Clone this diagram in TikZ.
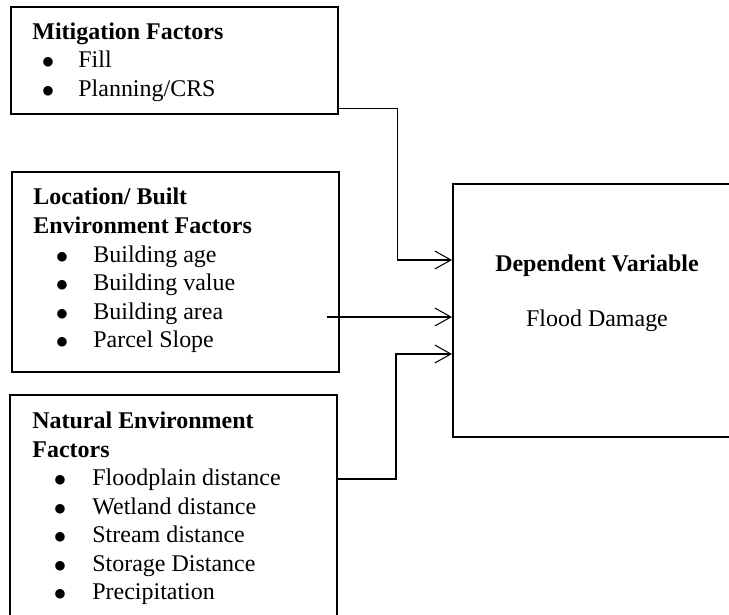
\documentclass[tikz,border=0pt]{standalone}
\usepackage{fontspec}
\setmainfont{Liberation Serif}
\newfontfamily\dvsans{DejaVu Sans}
\usetikzlibrary{arrows.meta,fit}
\begin{document}
\begin{tikzpicture}[x=0.48pt,y=-0.48pt,
  box/.style={draw, line width=1pt, inner sep=0pt},
  txt/.style={anchor=base west, inner sep=0pt, font=\fontsize{11.5pt}{13.8pt}\selectfont},
  ttl/.style={anchor=base west, inner sep=0pt, font=\fontsize{11.5pt}{13.8pt}\selectfont\bfseries},
  ctr/.style={anchor=base, inner sep=0pt, font=\fontsize{11.5pt}{13.8pt}\selectfont},
  ctrb/.style={anchor=base, inner sep=0pt, font=\fontsize{11.5pt}{13.8pt}\selectfont\bfseries},
  bul/.style={anchor=base, inner sep=0pt, yshift=1pt, font=\dvsans\fontsize{6pt}{7pt}\selectfont},
  conn/.style={line width=0.5pt, -{Straight Barb[length=7.7pt,width=8.6pt]}}]
\useasboundingbox (0,0) rectangle (729,615);
\clip (0,0) rectangle (729,615);

% boxes
\node[box, fit={(11,7) (338,114)}] (mit) {};
\node[box, fit={(12,172) (339,372)}] (loc) {};
\node[box, fit={(10,395) (337,650)}] (nat) {};
\node[box, fit={(453,184) (770,437)}] (dep) {};

% Mitigation
\node[ttl] (m0) at (32,39.5) {Mitigation Factors};
\node[bul] (mb1) at (48,68) {●};
\node[txt] (m1) at (78,68) {Fill};
\node[bul] (mb2) at (48,96.5) {●};
\node[txt] (m2) at (78,96.5) {Planning/CRS};

% Location
\node[ttl] (l0) at (33,205) {Location/ Built};
\node[ttl] (l00) at (33,233.5) {Environment Factors};
\node[bul] (lb1) at (62,262.5) {●};
\node[txt] (l1) at (93,262.5) {Building age};
\node[bul] (lb2) at (62,291) {●};
\node[txt] (l2) at (93,291) {Building value};
\node[bul] (lb3) at (62,319.5) {●};
\node[txt] (l3) at (93,319.5) {Building area};
\node[bul] (lb4) at (62,348) {●};
\node[txt] (l4) at (93,348) {Parcel Slope};

% Natural
\node[ttl] (n0) at (32,429) {Natural Environment};
\node[ttl] (n00) at (32,457.5) {Factors};
\node[bul] (nb1) at (60,486) {●};
\node[txt] (n1) at (92,486) {Floodplain distance};
\node[bul] (nb2) at (60,514.5) {●};
\node[txt] (n2) at (92,514.5) {Wetland distance};
\node[bul] (nb3) at (60,543) {●};
\node[txt] (n3) at (92,543) {Stream distance};
\node[bul] (nb4) at (60,571.5) {●};
\node[txt] (n4) at (92,571.5) {Storage Distance};
\node[bul] (nb5) at (60,600) {●};
\node[txt] (n5) at (92,600) {Precipitation};

% Dependent
\node[ctrb] (d0) at (597,271.5) {Dependent Variable};
\node[ctr] (d1) at (597,326.5) {Flood Damage};

% connectors
\coordinate (o1) at (0,108.5);
\coordinate (j1) at (397.5,260);
\draw[conn] (mit.east |- o1) -| (j1) -- (dep.west |- j1);

\coordinate (s2) at (327,317);
\draw[conn] (s2) -- (dep.west |- s2);

\coordinate (o3) at (0,479);
\coordinate (j3) at (396,354);
\draw[conn] (nat.east |- o3) -| (j3) -- (dep.west |- j3);
\end{tikzpicture}
\end{document}
